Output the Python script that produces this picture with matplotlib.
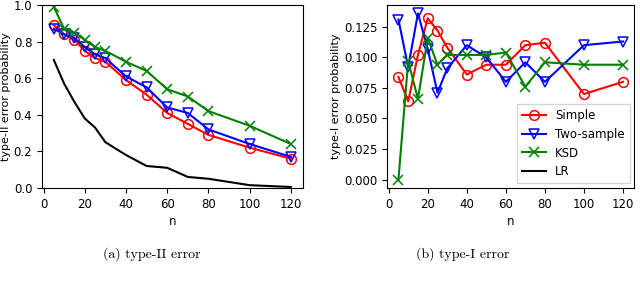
import numpy as np
import matplotlib.pyplot as plt

n = [5, 10, 15, 20, 25, 30, 40, 50, 60, 70, 80, 100, 120]

# type-II error
simple_2 = [0.89, 0.84, 0.81, 0.75, 0.71, 0.69, 0.59, 0.51, 0.41, 0.35, 0.29, 0.22, 0.16]
twosample_2 = [0.87, 0.84, 0.82, 0.77, 0.73, 0.71, 0.61, 0.55, 0.44, 0.41, 0.32, 0.24, 0.17]
ksd_2 = [0.99, 0.87, 0.85, 0.81, 0.77, 0.75, 0.69, 0.64, 0.54, 0.50, 0.42, 0.34, 0.24]
lr_2 = [0.70, 0.57, 0.47, 0.38, 0.33, 0.25, 0.18, 0.12, 0.11, 0.06, 0.05, 0.015, 0.005]

# type-I error
simple_1 = [0.084, 0.064, 0.102, 0.132, 0.122, 0.108, 0.086, 0.094, 0.094, 0.110, 0.112, 0.070, 0.080]
twosample_1 = [0.131, 0.092, 0.136, 0.107, 0.071, 0.091, 0.110, 0.100, 0.080, 0.096, 0.080, 0.110, 0.113]
ksd_1 = [0.000, 0.097, 0.066, 0.116, 0.094, 0.102, 0.102, 0.102, 0.104, 0.076, 0.096, 0.094, 0.094]

plt.rcParams['font.size'] = 8
plt.rcParams['xtick.labelsize'] = 8.5
plt.rcParams['ytick.labelsize'] = 8.5

fig = plt.figure(figsize=(6.4, 2.83), dpi=100)
ax1 = fig.add_axes([0.0656, 0.336, 0.4074, 0.646])
ax2 = fig.add_axes([0.605, 0.336, 0.386, 0.646])

mk = dict(markersize=7, markerfacecolor='none', markeredgewidth=1.1, linewidth=1.5)

ax1.plot(n, simple_2, color='r', marker='o', **mk)
ax1.plot(n, twosample_2, color='b', marker='v', **mk)
ax1.plot(n, ksd_2, color='g', marker='x', **mk)
ax1.plot(n, lr_2, color='k', linewidth=1.5)
ax1.set_ylim(0, 1.0)
ax1.set_xlabel('n', labelpad=3, fontsize=8.5)
ax1.set_ylabel('type-II error probability', labelpad=2)
ax1.set_xticks([0, 20, 40, 60, 80, 100, 120])

ax2.plot(n, simple_1, color='r', marker='o', label='Simple', **mk)
ax2.plot(n, twosample_1, color='b', marker='v', label='Two-sample', **mk)
ax2.plot(n, ksd_1, color='g', marker='x', label='KSD', **mk)
ax2.plot([], [], color='k', linewidth=1.5, label='LR')
ax2.set_xlabel('n', labelpad=3, fontsize=8.5)
ax2.set_ylabel('type-I error probability', labelpad=2)
ax2.set_xticks([0, 20, 40, 60, 80, 100, 120])
ax2.set_yticks([0.0, 0.025, 0.05, 0.075, 0.1, 0.125])
ax2.yaxis.set_major_formatter(plt.FormatStrFormatter('%.3f'))
ax2.legend(loc='lower right', fontsize=8.5, fancybox=False, edgecolor='0.8',
           borderaxespad=0.4)

fig.text(0.237, 0.102, '(a) type-II error', ha='center', va='center',
         family='cmr10', fontsize=10)
fig.text(0.723, 0.102, '(b) type-I error', ha='center', va='center',
         family='cmr10', fontsize=10)

fig.savefig('out.png', dpi=100)
